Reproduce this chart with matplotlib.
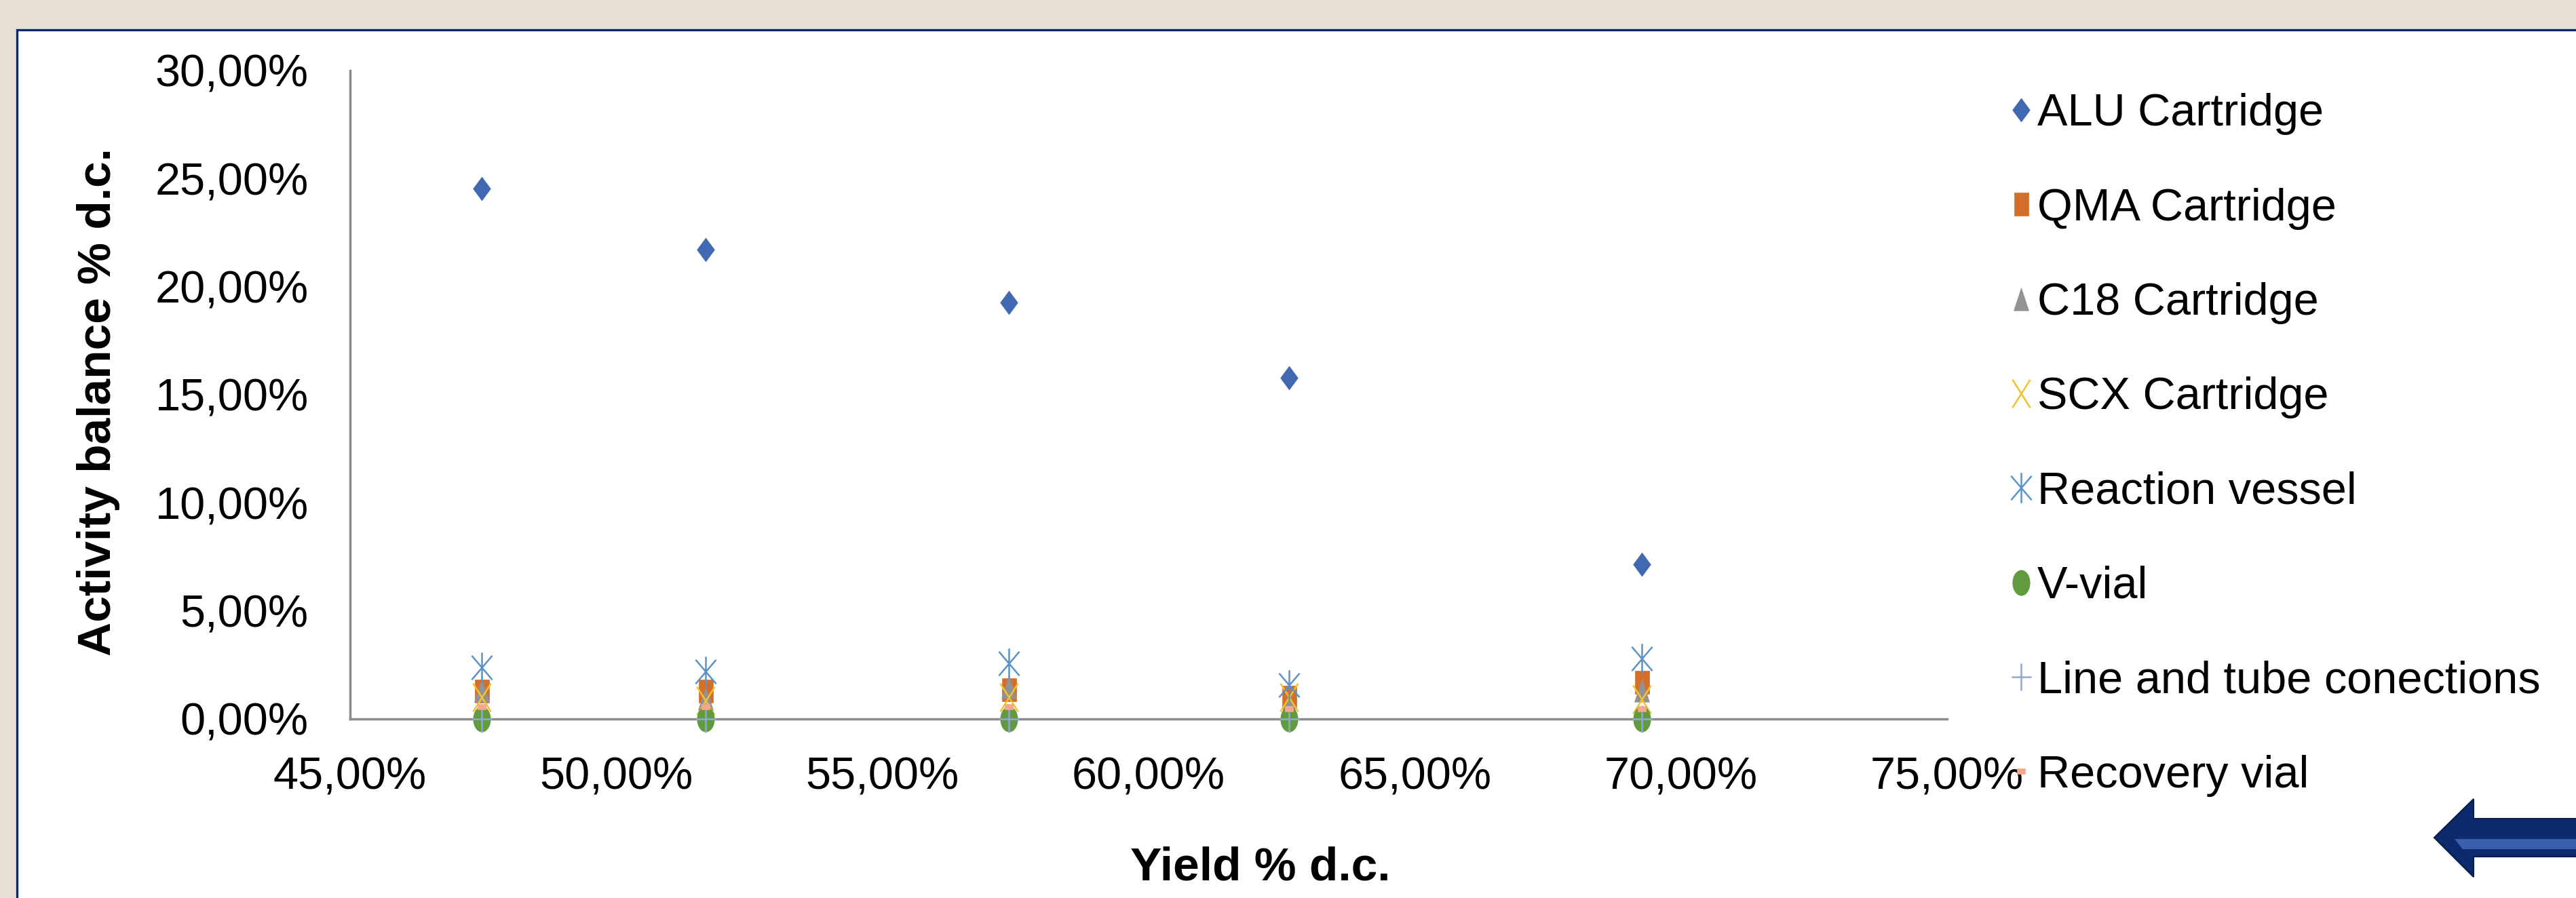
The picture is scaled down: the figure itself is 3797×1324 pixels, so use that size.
import math
import matplotlib
matplotlib.use('Agg')
import matplotlib.pyplot as plt
from matplotlib.path import Path
from matplotlib.patches import Rectangle, Polygon
from matplotlib.lines import Line2D
from matplotlib.ticker import FuncFormatter, MultipleLocator

plt.rcParams['font.family'] = ['Liberation Sans', 'DejaVu Sans']

# data (percent)
yield_dc = [47.47, 51.68, 57.37, 62.64, 69.27]
alu = [24.54, 21.72, 19.28, 15.8, 7.14]
qma = [1.29, 1.29, 1.35, 1.0, 1.69]
c18 = [1.33, 0.93, 1.47, 0.73, 1.33]
scx = [1.0, 0.84, 1.0, 1.0, 0.92]
reaction_vessel = [2.37, 2.2, 2.56, 1.56, 2.8]
v_vial = [0.0, 0.0, 0.0, 0.0, 0.0]
line_tube = [0.0, 0.0, 0.0, 0.0, 0.0]
recovery_vial = [0.55, 0.55, 0.55, 0.48, 0.48]

labels = ['ALU Cartridge', 'QMA Cartridge', 'C18 Cartridge', 'SCX Cartridge',
          'Reaction vessel', 'V-vial', 'Line and tube conections', 'Recovery vial']
colors = ['#4169B2', '#D46F2B', '#929292', '#F2C12E',
          '#5B92C9', '#629A3E', '#8EA6D8', '#F3A88A']

W, H = 3798, 1324


def closed(verts):
    verts = verts + [verts[0]]
    codes = [Path.MOVETO] + [Path.LINETO] * (len(verts) - 2) + [Path.CLOSEPOLY]
    return Path(verts, codes)


def segs(pairs):
    verts, codes = [], []
    for a, b in pairs:
        verts += [a, b]
        codes += [Path.MOVETO, Path.LINETO]
    return Path(verts, codes)


# markers are squeezed horizontally like in the stretched original chart
diamond = closed([(0, 1), (0.74, 0), (0, -1), (-0.74, 0)])
square = closed([(-0.63, -1), (0.63, -1), (0.63, 1), (-0.63, 1)])
triangle = closed([(0, 1), (0.66, -1), (-0.66, -1)])
xmark = segs([((-0.63, -1), (0.63, 1)), ((-0.63, 1), (0.63, -1))])
star = segs([((-0.68, -0.8), (0.68, 0.8)), ((-0.68, 0.8), (0.68, -0.8)),
             ((0, -1), (0, 1))])
ellipse = closed([(0.68 * math.cos(t / 24 * 2 * math.pi),
                   math.sin(t / 24 * 2 * math.pi)) for t in range(24)])
plus = segs([((-0.72, 0), (0.72, 0)), ((0, -1), (0, 1))])
dash = closed([(-1, -0.65), (1, -0.65), (1, 0.65), (-1, 0.65)])

styles = [
    dict(marker=diamond, ms=25, mfc=colors[0], mec=colors[0], mew=0.5),
    dict(marker=square, ms=24, mfc=colors[1], mec=colors[1], mew=0.5),
    dict(marker=triangle, ms=24, mfc=colors[2], mec=colors[2], mew=0.5),
    dict(marker=xmark, ms=30, mfc='none', mec=colors[3], mew=1.8),
    dict(marker=star, ms=32, mfc='none', mec=colors[4], mew=1.8),
    dict(marker=ellipse, ms=27, mfc=colors[5], mec=colors[5], mew=0.5),
    dict(marker=plus, ms=29, mfc='none', mec=colors[6], mew=1.8),
    dict(marker=dash, ms=8, mfc=colors[7], mec=colors[7], mew=0.5),
]

series = [alu, qma, c18, scx, reaction_vessel, v_vial, line_tube, recovery_vial]

fig = plt.figure(figsize=(W / 100, H / 100), dpi=100)
fig.patch.set_facecolor('#E6DFD4')

# white chart area with navy border
box = Rectangle((25 / W, -0.2), 1.2, 1.2 - 44 / H, transform=fig.transFigure,
                facecolor='white', edgecolor='#0B2A63', linewidth=2.4, zorder=-10)
fig.patches.append(box)

ax = fig.add_axes([516 / W, 1 - 1060 / H, (2870 - 516) / W, (1060 - 104) / H])
ax.set_zorder(5)
ax.patch.set_visible(False)

handles = []
for vals, st, lab in zip(series, styles, labels):
    ax.plot(yield_dc, vals, linestyle='none', clip_on=False, **st)
    handles.append(Line2D([], [], linestyle='none', **st))

ax.set_xlim(45, 75)
ax.set_ylim(0, 30)
ax.xaxis.set_major_locator(MultipleLocator(5))
ax.yaxis.set_major_locator(MultipleLocator(5))
fmt = FuncFormatter(lambda v, p: ('%.2f%%' % v).replace('.', ','))
ax.xaxis.set_major_formatter(fmt)
ax.yaxis.set_major_formatter(fmt)
ax.tick_params(axis='both', length=0, labelsize=48, colors='black')
ax.tick_params(axis='x', pad=40)
ax.tick_params(axis='y', pad=44)
for s in ['top', 'right']:
    ax.spines[s].set_visible(False)
for s in ['left', 'bottom']:
    ax.spines[s].set_color('#8C8C8C')
    ax.spines[s].set_linewidth(2.5)
    ax.spines[s].set_zorder(0.5)

fig.text(145 / W, 1 - 593 / H, 'Activity balance % d.c.', rotation=90,
         ha='center', va='center', fontsize=50, fontweight='bold')
fig.text(1858 / W, 1 - 1279 / H, 'Yield % d.c.', ha='center', va='center',
         fontsize=50, fontweight='bold')

leg = ax.legend(handles, labels, loc='center left', bbox_to_anchor=(2966 / W, 1 - 656 / H),
                bbox_transform=fig.transFigure, frameon=False, fontsize=48,
                handlelength=0.4, handletextpad=0.15, labelspacing=1.16,
                borderpad=0, borderaxespad=0)
leg.set_zorder(20)


# navy block arrow, bottom right
def fy(py):
    return 1 - py / H


arrow = Polygon([(3588 / W, fy(1235)), (3646 / W, fy(1178)), (3646 / W, fy(1207)),
                 (1.01, fy(1207)), (1.01, fy(1263)), (3646 / W, fy(1263)),
                 (3646 / W, fy(1293))], closed=True, transform=fig.transFigure,
                facecolor='#0C2A6C', edgecolor='#081C4A', linewidth=1.5, zorder=10)
fig.patches.append(arrow)
band = Polygon([(3618 / W, fy(1237)), (1.01, fy(1237)),
                (1.01, fy(1252)), (3630 / W, fy(1252))],
               closed=True, transform=fig.transFigure, facecolor='#3B5FAE',
               edgecolor='none', zorder=11)
fig.patches.append(band)

fig.savefig('out.png', dpi=100)
